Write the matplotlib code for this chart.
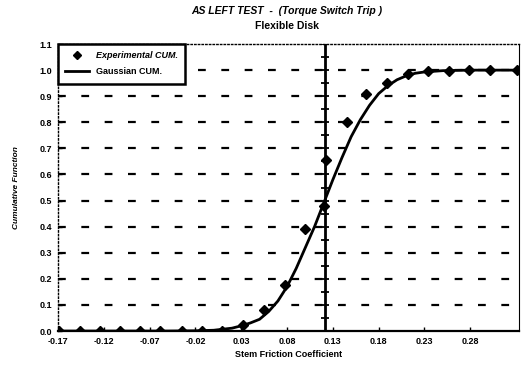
import numpy as np
import matplotlib
matplotlib.use("Agg")
import matplotlib.pyplot as plt

plt.rcParams['font.family'] = ['Liberation Sans', 'DejaVu Sans']
plt.rcParams['axes.unicode_minus'] = False

# experimental cumulative points
exp_x = [-0.169, -0.146, -0.124, -0.102, -0.080, -0.059, -0.035, -0.013, 0.009,
         0.032, 0.055, 0.078, 0.100, 0.120, 0.123, 0.145, 0.166, 0.189, 0.212,
         0.234, 0.257, 0.279, 0.302, 0.331]
exp_y = [0.0, 0.0, 0.0, 0.0, 0.0, 0.0, 0.0, 0.0, 0.0,
         0.025, 0.08, 0.175, 0.39, 0.48, 0.655, 0.80, 0.91, 0.95, 0.985,
         0.995, 0.995, 1.0, 1.0, 1.0]

# gaussian cumulative curve
gauss_x = [-0.17, -0.05, -0.02, 0.0, 0.02, 0.03, 0.04, 0.05, 0.06, 0.07, 0.08,
           0.09, 0.10, 0.11, 0.12, 0.13, 0.14, 0.15, 0.16, 0.17, 0.18, 0.19,
           0.20, 0.21, 0.22, 0.23, 0.25, 0.28, 0.33]
gauss_y = [0.0, 0.0, 0.001, 0.003, 0.011, 0.02, 0.031, 0.045, 0.075, 0.115, 0.17,
           0.24, 0.32, 0.40, 0.49, 0.58, 0.665, 0.745, 0.81, 0.865, 0.91, 0.94,
           0.963, 0.978, 0.988, 0.993, 0.998, 1.0, 1.0]

mean_x = 0.121

x_ticks = [-0.17, -0.12, -0.07, -0.02, 0.03, 0.08, 0.13, 0.18, 0.23, 0.28]
y_ticks = [0.0, 0.1, 0.2, 0.3, 0.4, 0.5, 0.6, 0.7, 0.8, 0.9, 1.0, 1.1]

fig = plt.figure(figsize=(5.22, 3.67), dpi=100)
ax = fig.add_axes([0.111, 0.098, 0.883, 0.782])

for yv in y_ticks[1:-1]:
    ax.axhline(yv, color='black', lw=1.6, ls=(0, (3.5, 7)), zorder=1)

ax.plot([mean_x, mean_x], [0, 1.1], color='black', lw=2, zorder=2)
ax.plot([mean_x] * 23, np.arange(0, 1.11, 0.05), ls='none', marker='_',
        ms=6, mew=1.3, color='black', zorder=2)

ax.plot(gauss_x, gauss_y, color='black', lw=2, label='Gaussian CUM.', zorder=3)
ax.plot(exp_x, exp_y, ls='none', marker='D', ms=5, color='black',
        label='Experimental CUM.', zorder=4)

ax.set_xlim(-0.17, 0.333)
ax.set_ylim(0, 1.1)
ax.set_xticks(x_ticks)
ax.set_xticklabels([f"{v:.2f}" for v in x_ticks], fontsize=6.5, fontweight='bold')
ax.set_yticks(y_ticks)
ax.set_yticklabels([f"{v:.1f}" for v in y_ticks], fontsize=6.5, fontweight='bold')
ax.tick_params(direction='in', length=3, width=1, pad=4)

ax.spines['left'].set_linestyle(':')
ax.spines['left'].set_linewidth(1)
ax.spines['top'].set_linestyle(':')
ax.spines['top'].set_linewidth(1)
ax.spines['right'].set_linewidth(0.8)
ax.spines['bottom'].set_linewidth(1.6)

ax.set_xlabel('Stem Friction Coefficient', fontsize=6.5, fontweight='bold', labelpad=3)
ax.set_ylabel('Cumulative Function', fontsize=6, fontweight='bold',
              style='italic', labelpad=14)

fig.text(0.55, 0.962, 'AS LEFT TEST  -  (Torque Switch Trip )', ha='center',
         fontsize=7.5, fontweight='bold', style='italic')
fig.text(0.55, 0.922, 'Flexible Disk', ha='center', fontsize=7.5, fontweight='bold')

handles, labels = ax.get_legend_handles_labels()
leg = ax.legend(handles[::-1], labels[::-1], loc='upper left',
                frameon=True, fancybox=False, borderaxespad=0,
                handlelength=2.6, borderpad=0.8, labelspacing=0.8,
                markerscale=0.8,
                prop={'weight': 'bold', 'style': 'italic', 'size': 6.5})
leg.get_texts()[1].set_style('normal')
leg.get_frame().set_edgecolor('black')
leg.get_frame().set_linewidth(1.8)
leg.get_frame().set_alpha(1)

fig.savefig('out.png', dpi=100)
